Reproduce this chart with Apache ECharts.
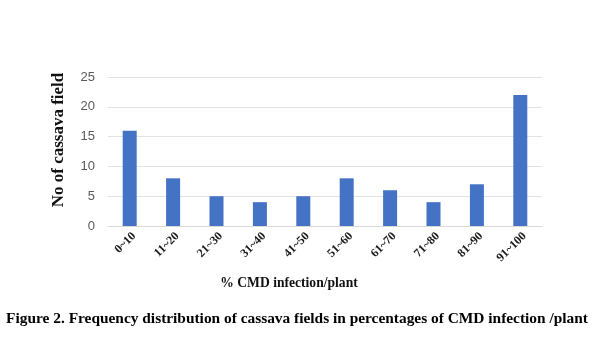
<!DOCTYPE html>
<html>
<head>
<meta charset="utf-8">
<script src="https://cdn.jsdelivr.net/npm/echarts@6/dist/echarts.min.js"></script>
<style>
  html, body { margin: 0; padding: 0; background: #fff; }
  #chart { width: 600px; height: 349px; }
</style>
</head>
<body>
<div id="chart"></div>
<script>
// Infection classes (% CMD infection per plant)
const categories = ['0~10', '11~20', '21~30', '31~40', '41~50', '51~60', '61~70', '71~80', '81~90', '91~100'];
// Number of cassava fields in each class
const fieldCounts = [16, 8, 5, 4, 5, 8, 6, 4, 7, 22];

const serif = '"Liberation Serif", "DejaVu Serif", serif';

const chart = echarts.init(document.getElementById('chart'), null, { renderer: 'canvas' });
chart.setOption({
  animation: false,
  backgroundColor: '#fff',
  grid: { left: 108, right: 58, top: 77, bottom: 123, containLabel: false },
  xAxis: {
    type: 'category',
    data: categories,
    axisLine: { show: true, lineStyle: { color: '#d9d9d9' } },
    axisTick: { show: false },
    axisLabel: {
      rotate: 45, interval: 0, margin: 4, verticalAlign: 'top',
      fontFamily: serif, fontWeight: 'bold', fontSize: 12, color: '#1a1a1a'
    }
  },
  yAxis: {
    type: 'value',
    min: 0, max: 25, interval: 5,
    axisLine: { show: false },
    axisTick: { show: false },
    splitLine: { lineStyle: { color: '#e3e3e3' } },
    axisLabel: {
      fontFamily: '"Liberation Sans Narrow", "Liberation Sans", sans-serif',
      fontSize: 13, color: '#595959', margin: 13
    }
  },
  series: [{
    type: 'bar',
    data: fieldCounts,
    barWidth: 14,
    itemStyle: { color: '#4472c4' }
  }],
  graphic: [
    {
      type: 'text', x: 59, y: 140, rotation: Math.PI / 2,
      style: {
        text: 'No of cassava field', fontFamily: serif, fontWeight: 'bold',
        fontSize: 17, fill: '#111', align: 'center', verticalAlign: 'middle'
      }
    },
    {
      type: 'text', x: 289, y: 283,
      style: {
        text: '% CMD infection/plant', fontFamily: serif, fontWeight: 'bold',
        fontSize: 13.6, fill: '#111', align: 'center', verticalAlign: 'middle'
      }
    },
    {
      type: 'text', x: 297, y: 319,
      style: {
        text: 'Figure 2. Frequency distribution of cassava fields in percentages of CMD infection /plant',
        fontFamily: serif, fontWeight: 'bold', fontSize: 15.4, fill: '#000',
        align: 'center', verticalAlign: 'middle'
      }
    }
  ]
});
</script>
</body>
</html>
